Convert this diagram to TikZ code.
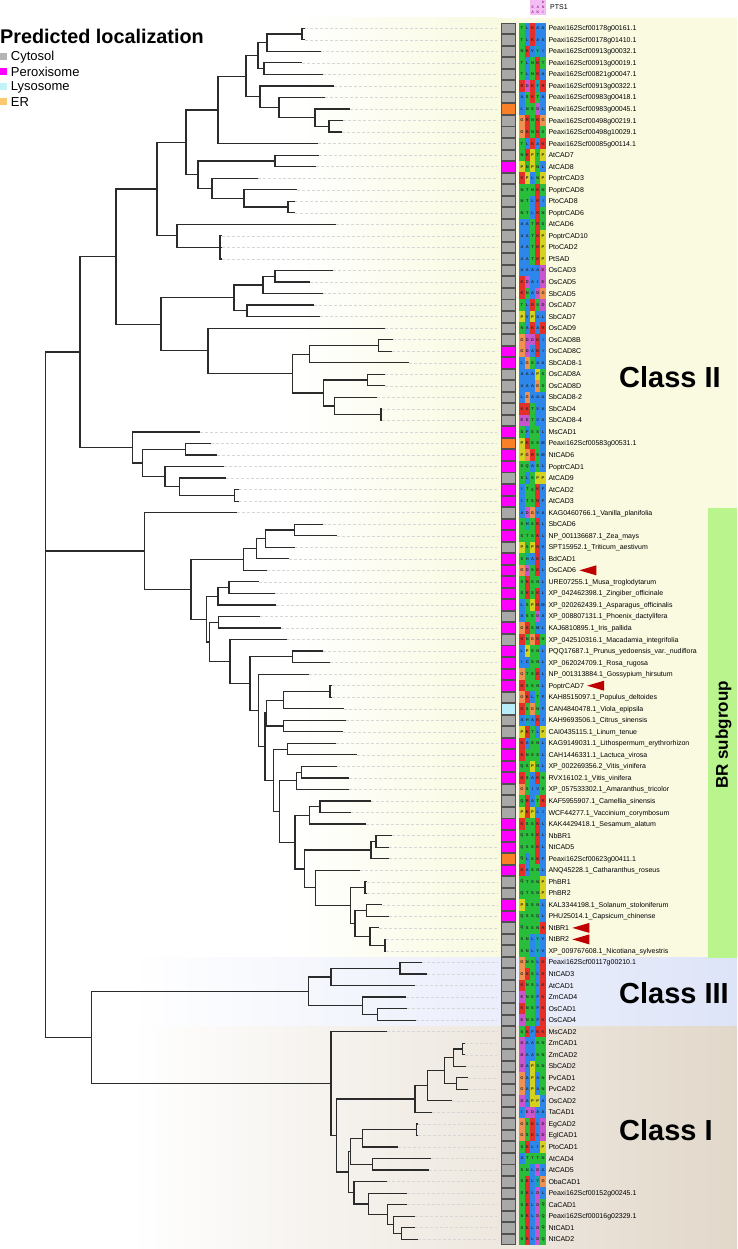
\documentclass[tikz,border=0pt]{standalone}
\usepackage{fontspec}
\setmainfont{Liberation Sans}
\usetikzlibrary{calc}
\definecolor{yelbg}{RGB}{249,250,224}
\definecolor{bluebg}{RGB}{222,228,248}
\definecolor{beigebg}{RGB}{226,216,202}
\definecolor{brgreen}{RGB}{185,245,140}
\definecolor{locc}{RGB}{168,168,168}
\definecolor{locp}{RGB}{255,0,255}
\definecolor{locl}{RGB}{184,236,248}
\definecolor{loce}{RGB}{250,128,40}
\definecolor{legc}{RGB}{180,180,180}
\definecolor{legl}{RGB}{192,244,248}
\definecolor{lege}{RGB}{250,200,110}
\definecolor{arrowred}{RGB}{192,0,0}
\definecolor{brcol}{RGB}{43,43,43}
\definecolor{guidecol}{RGB}{215,215,215}
\definecolor{boxline}{RGB}{80,80,80}
\definecolor{logopink}{RGB}{244,190,244}
\definecolor{logotext}{RGB}{150,40,150}
\definecolor{aablue}{RGB}{45,135,235}
\definecolor{aared}{RGB}{228,48,40}
\definecolor{aamag}{RGB}{200,85,205}
\definecolor{aagreen}{RGB}{40,190,60}
\definecolor{aaorange}{RGB}{240,145,80}
\definecolor{aayellow}{RGB}{212,210,30}
\definecolor{aacyan}{RGB}{20,168,168}
\colorlet{aaA}{aablue}\colorlet{aaI}{aablue}\colorlet{aaL}{aablue}\colorlet{aaM}{aablue}
\colorlet{aaF}{aablue}\colorlet{aaW}{aablue}\colorlet{aaV}{aablue}\colorlet{aaC}{aablue}
\colorlet{aaK}{aared}\colorlet{aaR}{aared}
\colorlet{aaD}{aamag}\colorlet{aaE}{aamag}
\colorlet{aaN}{aagreen}\colorlet{aaQ}{aagreen}\colorlet{aaS}{aagreen}\colorlet{aaT}{aagreen}
\colorlet{aaG}{aaorange}\colorlet{aaP}{aayellow}
\colorlet{aaH}{aacyan}\colorlet{aaY}{aacyan}
\tikzset{
  br/.style={line width=1.2pt,draw=brcol},
  guide/.style={draw=guidecol,line width=0.5pt,dash pattern=on 3pt off 2pt},
  locbox/.style={draw=boxline,line width=0.6pt,minimum width=14.5pt,minimum height=10.6pt,inner sep=0pt},
  lab/.style={anchor=west,inner sep=0pt,text height=5pt,text depth=0pt,font=\fontsize{7}{8}\selectfont},
  aalet/.style={inner sep=0pt,font=\fontsize{4}{4}\selectfont\bfseries,text=black!85},
  logolet/.style={inner sep=0pt,font=\fontsize{3.6}{3}\selectfont\bfseries,text=logotext},
  classlab/.style={anchor=west,inner sep=0pt,font=\fontsize{29}{30}\selectfont\bfseries},
  legtxt/.style={anchor=west,inner sep=0pt,font=\fontsize{13}{14}\selectfont},
}
\newcommand\tn[4]{%
  \path let \p1=($(#3)!0.5!(#4)$) in coordinate (#1) at (#2pt,\y1);
  \draw[br] (#1) |- (#3) (#1) |- (#4);}
\newcommand\aacell[2]{%
  \fill[aa#2] ({519.3+(#1-1)*5.28},{\yy-5.77}) rectangle ++(5.28,11.54);
  \node[aalet] (aa\i-#1) at ({519.3+(#1-0.5)*5.28},\yy) {#2};}
\def\rowseq#1#2#3#4#5{\aacell{1}{#1}\aacell{2}{#2}\aacell{3}{#3}\aacell{4}{#4}\aacell{5}{#5}}
\begin{document}
\begin{tikzpicture}[x=1pt,y=-1pt]
\useasboundingbox (0,0) rectangle (737,1249);
% backgrounds
\shade[left color=white,right color=yelbg] (290,18) rectangle (497,957.7);
\fill[yelbg] (497,18) rectangle (737,957.7);
\shade[left color=white,right color=bluebg] (130,957.7) rectangle (737,1026.7);
\shade[left color=white,right color=beigebg] (130,1026.7) rectangle (737,1249);
\fill[brgreen] (708.3,507.7) rectangle (737,957.7);
% legend
\node[anchor=west,inner sep=0pt,font=\fontsize{19.8}{20}\selectfont\bfseries] (legtitle) at (0,36.5) {Predicted localization};
\fill[legc] (0,53.5) rectangle (7,60.5);
\node[legtxt] (legcyt) at (10.7,57) {Cytosol};
\fill[locp] (0,68.5) rectangle (7,75.5);
\node[legtxt] (legper) at (10.7,72) {Peroxisome};
\fill[legl] (0,83.5) rectangle (7,90.5);
\node[legtxt] (leglys) at (10.7,87) {Lysosome};
\fill[lege] (0,98.5) rectangle (7,105.5);
\node[legtxt] (leger) at (10.7,102) {ER};
% PTS1 logo
\fill[logopink] (529.9,0) rectangle (545.7,15);
\node[logolet,font=\fontsize{3.2}{3}\selectfont\bfseries] (lg1) at (543.1,2.2) {D};
\node[logolet] (lg2) at (532.6,7) {S};
\node[logolet] (lg3) at (537.8,7) {A};
\node[logolet] (lg4) at (543.1,7) {N};
\node[logolet] (lg5) at (532.6,12) {A};
\node[logolet] (lg6) at (537.8,12) {K};
\node[logolet] (lg7) at (543.1,12) {I};
\node[lab] (pts) at (550,7.5) {PTS1};
% leaves
\foreach \i/\tx/\loc/\seq/\name in {
1/305/c/TLKAA/Peaxi162Scf00178g00161.1,
2/305/c/TLKAA/Peaxi162Scf00178g01410.1,
3/321/c/NKVYI/Peaxi162Scf00913g00032.1,
4/302/c/TLNKT/Peaxi162Scf00913g00019.1,
5/323/c/TLNKA/Peaxi162Scf00821g00047.1,
6/334/c/RDKYR/Peaxi162Scf00913g00322.1,
7/325/c/ASKTA/Peaxi162Scf00983g00418.1,
8/350/e/LNSDL/Peaxi162Scf00983g00045.1,
9/343/c/GRNKG/Peaxi162Scf00498g00219.1,
10/342/c/GRNKS/Peaxi162Scf00498g10029.1,
11/318/c/TLKAK/Peaxi162Scf00085g00114.1,
12/319/c/NKPTP/AtCAD7,
13/316/p/PNPNL/AtCAD8,
14/258/c/KPLNP/PoptrCAD3,
15/297/c/NTNKN/PoptrCAD8,
16/295/c/NTLKI/PtoCAD8,
17/295/c/NTLKN/PoptrCAD6,
18/336/c/AATRS/AtCAD6,
19/221.5/c/AATKP/PoptrCAD10,
20/221.5/c/AATKP/PtoCAD2,
21/221.5/c/AATKP/PtSAD,
22/333/c/AAAAE/OsCAD3,
23/310/c/KDAIE/OsCAD5,
24/323/c/KNADG/SbCAD5,
25/314/c/TLRSD/OsCAD7,
26/320/c/PVPAL/SbCAD7,
27/385/c/NAKAR/OsCAD9,
28/393/c/GDDKI/OsCAD8B,
29/392/p/GDAKI/OsCAD8C,
30/409/p/LGSAA/SbCAD8-1,
31/385/c/AAAPS/OsCAD8A,
32/385/c/AAAGS/OsCAD8D,
33/377.3/c/LGAAA/SbCAD8-2,
34/381.8/c/KKTVA/SbCAD4,
35/381.8/c/EETVA/SbCAD8-4,
36/200/p/SFSSL/MsCAD1,
37/211/e/PKSSM/Peaxi162Scf00583g00531.1,
38/216.7/p/PGRSM/NtCAD6,
39/224.3/p/SQASL/PoptrCAD1,
40/226/c/SLSPP/AtCAD9,
41/239.3/p/ITSKF/AtCAD2,
42/239.3/p/ITSRF/AtCAD3,
43/236.7/c/ADGVA/KAG0460766.1\_Vanilla\_planifolia,
44/323.3/p/SHSKL/SbCAD6,
45/336.7/p/STSKL/NP\_001136687.1\_Zea\_mays,
46/295/c/PSPRV/SPT15952.1\_Triticum\_aestivum,
47/289.3/p/SHAKL/BdCAD1,
48/266.7/p/GDSKL/OsCAD6,
49/259.3/p/SKSNL/URE07255.1\_Musa\_troglodytarum,
50/275.3/p/SKSKL/XP\_042462398.1\_Zingiber\_officinale,
51/276/p/LSPRM/XP\_020262439.1\_Asparagus\_officinalis,
52/260/c/ASSDA/XP\_008807131.1\_Phoenix\_dactylifera,
53/281/p/GKSML/KAJ6810895.1\_Iris\_pallida,
54/286.7/c/KNGKN/XP\_042510316.1\_Macadamia\_integrifolia,
55/323.3/p/LPSNL/PQQ17687.1\_Prunus\_yedoensis\_var.\_nudiflora,
56/330/p/ICSNL/XP\_062024709.1\_Rosa\_rugosa,
57/309.3/p/GTSKL/NP\_001313884.1\_Gossypium\_hirsutum,
58/332/p/KSSNL/PoptrCAD7,
59/332/c/GKLTF/KAH8515097.1\_Populus\_deltoides,
60/344/l/KSGNF/CAN4840478.1\_Viola\_epipsila,
61/346/c/AHAKI/KAH9693506.1\_Citrus\_sinensis,
62/343.3/c/PKTLP/CAI0435115.1\_Linum\_tenue,
63/336/p/KASNL/KAG9149031.1\_Lithospermum\_erythrorhizon,
64/357.3/p/KNSSL/CAH1446331.1\_Lactuca\_virosa,
65/336.7/p/QSPNL/XP\_002269356.2\_Vitis\_vinifera,
66/349.3/p/KSAKN/RVX16102.1\_Vitis\_vinifera,
67/349.3/c/GSIVS/XP\_057533302.1\_Amaranthus\_tricolor,
68/371/c/QRATR/KAF5955907.1\_Camellia\_sinensis,
69/350.7/c/PKPLI/WCF44277.1\_Vaccinium\_corymbosum,
70/365.7/p/KSSKL/KAK4429418.1\_Sesamum\_alatum,
71/392.3/p/QSSKL/NbBR1,
72/389.3/p/QSSKL/NtCAD5,
73/389.3/e/QLSKF/Peaxi162Scf00623g00411.1,
74/360/p/KASNL/ANQ45228.1\_Catharanthus\_roseus,
75/366.7/c/QTSNP/PhBR1,
76/366.7/c/QTSNP/PhBR2,
77/381.7/p/PSSNL/KAL3344198.1\_Solanum\_stoloniferum,
78/389.3/p/QSSQL/PHU25014.1\_Capsicum\_chinense,
79/379.3/c/QSSNR/NtBR1,
80/386.2/c/SNLYV/NtBR2,
81/386.2/c/SNLYV/XP\_009767608.1\_Nicotiana\_sylvestris,
82/421.7/c/GNSLK/Peaxi162Scf00117g00210.1,
83/427.3/c/GKSLK/NtCAD3,
84/415/c/KNSLK/AtCAD1,
85/405.7/c/ENSFK/ZmCAD4,
86/406.7/c/KNSFK/OsCAD1,
87/415.7/c/ENSFK/OsCAD4,
88/386.7/c/SKFKK/MsCAD2,
89/465/c/DAASN/ZmCAD1,
90/465/c/DAASN/ZmCAD2,
91/466/c/DAPSN/SbCAD2,
92/468.3/c/GAPAN/PvCAD1,
93/468.3/c/GAPAN/PvCAD2,
94/452.3/c/DAPPA/OsCAD2,
95/431.7/c/IEDAA/TaCAD1,
96/417.5/c/GSKLD/EgCAD2,
97/417.5/c/GSKLD/EglCAD1,
98/398.3/c/SKLIP/PtoCAD1,
99/431/c/ATTTN/AtCAD4,
100/429.3/c/SNLDA/AtCAD5,
101/387.3/c/SKLYG/ObaCAD1,
102/407.3/c/SKLDL/Peaxi162Scf00152g00245.1,
103/406.7/c/SKLDQ/CaCAD1,
104/415/c/SKLDQ/Peaxi162Scf00016g02329.1,
105/415/c/SKLDQ/NtCAD1,
106/417.7/c/SKLDQ/NtCAD2}{
  \pgfmathsetmacro\yy{28.3+(\i-1)*11.533}
  \coordinate (L\i) at (\tx,\yy);
  \coordinate (G\i) at (497,\yy);
  \draw[guide] (L\i) -- (G\i);
  \node[locbox,fill=loc\loc] (B\i) at (508.2,\yy) {};
  \expandafter\rowseq\seq
  \node[lab] (T\i) at (548.3,\yy) {\name};
}
% tree: Class II
\tn{n1}{302}{L1}{L2}
\tn{n2}{267}{n1}{L3}
\tn{n3}{264}{L4}{L5}
\tn{n4}{258}{n2}{n3}
\tn{n5}{329}{L9}{L10}
\tn{n6}{315}{L8}{n5}
\tn{n7}{279}{L7}{n6}
\tn{n8}{260}{L6}{n7}
\tn{n9}{246}{n4}{n8}
\tn{n10}{218}{n9}{L11}
\tn{n11}{275}{L12}{L13}
\tn{n12}{288}{L16}{L17}
\tn{n13}{244}{L15}{n12}
\tn{n14}{212}{L14}{n13}
\tn{n15}{198}{n11}{n14}
\tn{n16}{186}{n10}{n15}
\tn{n17}{220}{L19}{L21}
\draw[br] (n17) |- (L20);
\tn{n18}{177}{L18}{n17}
\tn{n19}{157}{n16}{n18}
\tn{n20}{275}{L22}{L23}
\tn{n21}{263}{n20}{L24}
\tn{n22}{247}{L25}{L26}
\tn{n23}{234}{n21}{n22}
\tn{n24}{378.3}{L28}{L29}
\tn{n25}{309.3}{n24}{L30}
\tn{n26}{367.7}{L31}{L32}
\tn{n27}{381}{L34}{L35}
\tn{n28}{334.3}{L33}{n27}
\tn{n29}{323.3}{n26}{n28}
\tn{n30}{292.7}{n25}{n29}
\tn{n31}{208}{L27}{n30}
\tn{n32}{161}{n23}{n31}
\tn{n33}{116}{n19}{n32}
\tn{n34}{185.7}{L37}{L38}
\tn{n35}{234.3}{L41}{L42}
\tn{n36}{179.3}{L40}{n35}
\tn{n37}{165}{L39}{n36}
\tn{n38}{142.7}{n34}{n37}
\tn{n39}{132.7}{L36}{n38}
\tn{n40}{80}{n33}{n39}
% BR subgroup
\tn{b1}{294.3}{L44}{L45}
\tn{b2}{265.7}{b1}{L46}
\tn{b3}{256.7}{b2}{L47}
\tn{b4}{243.3}{b3}{L48}
\tn{b5}{229}{L49}{L50}
\tn{b6}{218}{b5}{L51}
\tn{b7}{218.3}{L52}{L53}
\tn{b8}{292.7}{L55}{L56}
\tn{b9}{330}{L58}{L59}
\tn{b10}{283.3}{b9}{L60}
\tn{b11}{283.3}{L61}{L62}
\tn{b12}{266.7}{b10}{b11}
\tn{b13}{287.3}{L63}{L64}
\tn{b14}{301.7}{L65}{L66}
\tn{b15}{296.7}{b14}{L67}
\tn{b16}{320}{L68}{L69}
\tn{b17}{309.3}{b16}{L70}
\tn{b18}{376}{L71}{L72}
\tn{b19}{371}{b18}{L73}
\tn{b20}{365}{L75}{L76}
\tn{b21}{366.7}{L77}{L78}
\tn{b22}{385}{L80}{L81}
\tn{b23}{370}{L79}{b22}
\tn{b24}{355}{b21}{b23}
\tn{b25}{350.7}{b20}{b24}
\tn{b26}{315.7}{L74}{b25}
\tn{b27}{304.3}{b19}{b26}
\tn{b28}{295}{b17}{b27}
\tn{b29}{279.3}{b15}{b28}
\tn{b30}{273.3}{b13}{b29}
\tn{b31}{265}{b12}{b30}
\tn{b32}{258.3}{L57}{b31}
\tn{b33}{250}{b8}{b32}
\tn{b34}{230}{L54}{b33}
\tn{b35}{209.3}{b7}{b34}
\tn{b36}{206.7}{b6}{b35}
\tn{b37}{191}{b4}{b36}
\tn{b38}{144.3}{L43}{b37}
% Class III and I
\tn{c1}{400}{L82}{L83}
\tn{c2}{331}{c1}{L84}
\tn{c3}{377.7}{L86}{L87}
\tn{c4}{362.3}{L85}{c3}
\tn{c5}{308.3}{c2}{c4}
\tn{d1}{462.7}{L89}{L90}
\tn{d2}{453.3}{d1}{L91}
\tn{d3}{456.7}{L92}{L93}
\tn{d4}{444.3}{d2}{d3}
\tn{d5}{427.7}{d4}{L94}
\tn{d6}{415}{d5}{L95}
\tn{d7}{416.7}{L96}{L97}
\tn{d8}{362.3}{d7}{L98}
\tn{d9}{372.7}{L99}{L100}
\tn{d10}{350.7}{d8}{d9}
\tn{d11}{401.7}{L105}{L106}
\tn{d12}{393.3}{L104}{d11}
\tn{d13}{387.7}{L103}{d12}
\tn{d14}{368.3}{L102}{d13}
\tn{d15}{354}{L101}{d14}
\tn{d16}{348.3}{d10}{d15}
\tn{d17}{336.7}{d6}{d16}
\tn{d18}{331}{L88}{d17}
\tn{c6}{91.7}{c5}{d18}
% root
\path let \p1=($(n40)!0.5!(c6)$) in coordinate (root) at (45.7pt,\y1);
\draw[br] (root) |- (n40) (root) |- (b38) (root) |- (c6);
% red markers
\foreach \k in {48,58,79,80}{
  \fill[arrowred] ([xshift=3pt]T\k.east) -- ++(17,-5) -- ++(0,10) -- cycle;
}
% class labels
\node[classlab] (cII) at (619,376.7) {Class II};
\node[classlab] (cIII) at (619,993) {Class III};
\node[classlab] (cI) at (619,1130) {Class I};
\node[rotate=90,inner sep=0pt,font=\fontsize{17}{17}\selectfont\bfseries] (brsub) at (723.5,735) {BR subgroup};
\end{tikzpicture}
\end{document}
